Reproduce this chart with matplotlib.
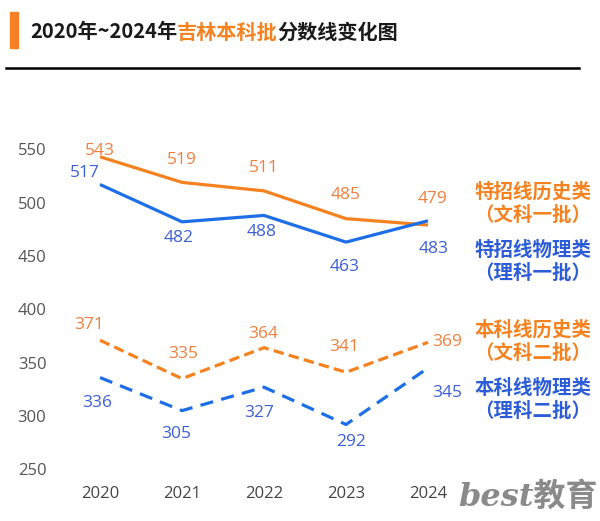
import matplotlib
matplotlib.use("Agg")
import matplotlib.pyplot as plt
from matplotlib.patches import Rectangle
from matplotlib.lines import Line2D

plt.rcParams['font.family'] = ['Noto Sans CJK SC', 'DejaVu Sans']
plt.rcParams['lines.scale_dashes'] = False

### data
years     = ['2020', '2021', '2022', '2023', '2024']
hist_1    = [543, 519, 511, 485, 479]   # 特招线历史类
phys_1    = [517, 482, 488, 463, 483]   # 特招线物理类
hist_2    = [371, 335, 364, 341, 369]   # 本科线历史类
phys_2    = [336, 305, 327, 292, 345]   # 本科线物理类
yticks    = [250, 300, 350, 400, 450, 500, 550]

### label offsets (pixels)
off_h1 = [(0, 6), (0, 22), (0, 23), (0, 24), (4, 26)]
off_p1 = [(-15, 11), (-3, -16), (-2, -17), (-1, -25), (6, -28)]
off_h2 = [(-11, 15), (1, 25), (-1, 14), (-2, 25), (19, 0)]
off_p2 = [(-3, -25), (-6, -23), (-5, -26), (5, -17), (19, -25)]

ORANGE = '#F5821F'
BLUE = '#1D6FE8'
ORANGE_TXT = '#F07F3C'
BLUE_TXT = '#3C5FD6'
NUM_FONT = ['Open Sans', 'DejaVu Sans']

W, H = 600, 521
fig = plt.figure(figsize=(W / 100, H / 100), dpi=100)
ax = fig.add_axes([59 / W, (H - 469.3) / H, 410 / W, 320 / H])

x = list(range(len(years)))
series = [
    (hist_1, ORANGE, None, off_h1, ORANGE_TXT),
    (phys_1, BLUE, None, off_p1, BLUE_TXT),
    (hist_2, ORANGE, (0, (7.5, 3.8)), off_h2, ORANGE_TXT),
    (phys_2, BLUE, (0, (9.5, 6.0)), off_p2, BLUE_TXT),
]
for vals, col, ls, offs, tcol in series:
    ax.plot(x, vals, color=col, lw=2.3, linestyle=ls if ls else '-',
            solid_capstyle='butt', dash_capstyle='butt', clip_on=False)
    for xi, v, (dx, dy) in zip(x, vals, offs):
        ax.annotate(str(v), (xi, v), xytext=(dx, dy), textcoords='offset pixels',
                    ha='center', va='center', fontsize=12.5, color=tcol,
                    family=NUM_FONT)

ax.set_xlim(-0.5, 4.5)
ax.set_ylim(250, 550)
ax.set_xticks(x)
ax.set_xticklabels(years)
ax.set_yticks(yticks)
ax.tick_params(axis='both', length=0, labelsize=12)
ax.tick_params(axis='y', pad=9, colors='#555555')
ax.tick_params(axis='x', pad=12, colors='#444444')
for lab in ax.get_xticklabels() + ax.get_yticklabels():
    lab.set_family(NUM_FONT)
for s in ax.spines.values():
    s.set_visible(False)

### right side labels
legend_txt = [
    ('特招线历史类', '（文科一批）', 192, ORANGE),
    ('特招线物理类', '（理科一批）', 250, '#2D5DD6'),
    ('本科线历史类', '（文科二批）', 330, ORANGE),
    ('本科线物理类', '（理科二批）', 388, '#2D5DD6'),
]
for l1, l2, yc, col in legend_txt:
    fig.text(533 / W, 1 - yc / H, l1, ha='center', va='center', fontsize=14,
             color=col, fontweight='bold')
    fig.text(533 / W, 1 - (yc + 23) / H, l2, ha='center', va='center', fontsize=14,
             color=col, fontweight='bold')

### title
fig.patches.append(Rectangle((10 / W, 1 - 48 / H), 8 / W, 36 / H,
                             transform=fig.transFigure, color='#F58025'))
fig.add_artist(Line2D([6 / W, 579 / W], [1 - 68 / H, 1 - 68 / H],
                      transform=fig.transFigure, color='black', lw=1.8))
renderer = fig.canvas.get_renderer()
xpos = 30
for part, col in [('2020年~2024年', '#1a1a1a'), ('吉林本科批', ORANGE),
                  ('分数线变化图', '#1a1a1a')]:
    t = fig.text(xpos / W, 1 - 32 / H, part, ha='left', va='center',
                 fontsize=14.5, color=col, fontweight='bold')
    xpos += t.get_window_extent(renderer).width

### watermark
fig.text(528 / W, 1 - 497 / H, 'best教育', ha='center', va='center',
         fontsize=23, color='#8a8a8a', style='italic', fontweight='bold',
         family=['DejaVu Serif', 'Noto Sans CJK SC'])

fig.savefig('out.png', dpi=100)
